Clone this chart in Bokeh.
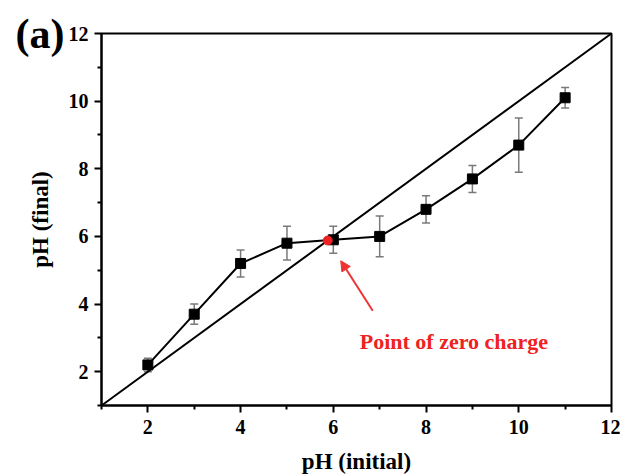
from bokeh.plotting import figure
from bokeh.models import (ColumnDataSource, Whisker, TeeHead, FixedTicker, Label,
                          Arrow, NormalHead, Range1d, LinearAxis)
from bokeh.embed import file_html
from bokeh.resources import INLINE

# Data
ph_initial = [2, 3, 4, 5, 6, 7, 8, 9, 10, 11]
ph_final = [2.2, 3.7, 5.2, 5.8, 5.9, 6.0, 6.8, 7.7, 8.7, 10.1]
ph_err = [0.2, 0.3, 0.4, 0.5, 0.4, 0.6, 0.4, 0.4, 0.8, 0.3]
diag_x = [1, 12]
diag_y = [1, 12]
pzc_x = [5.88]
pzc_y = [5.88]
major_ticks = [2, 4, 6, 8, 10, 12]
minor_ticks = [1, 3, 5, 7, 9, 11]
panel_tag = "(a)"

FONT = "Liberation Serif"

p = figure(width=620, height=476, output_backend="svg", toolbar_location=None,
           x_range=Range1d(1, 12), y_range=Range1d(1, 12),
           min_border_left=101, min_border_right=9, min_border_top=33, min_border_bottom=69)
p.grid.visible = False
p.outline_line_color = "black"
p.outline_line_width = 2

src = ColumnDataSource(dict(
    x=ph_initial, y=ph_final,
    upper=[v + e for v, e in zip(ph_final, ph_err)],
    lower=[v - e for v, e in zip(ph_final, ph_err)],
))

p.line(diag_x, diag_y, line_color="black", line_width=2)
w = Whisker(source=src, base="x", upper="upper", lower="lower",
            line_color="#7a7a7a", line_width=1.5,
            upper_head=TeeHead(size=8, line_color="#7a7a7a", line_width=1.5),
            lower_head=TeeHead(size=8, line_color="#7a7a7a", line_width=1.5))
p.add_layout(w)
p.line("x", "y", source=src, line_color="black", line_width=2)
p.scatter("x", "y", source=src, marker="square", size=10, fill_color="black", line_color="black")
p.scatter(pzc_x, pzc_y, marker="circle", size=9, fill_color="#ee2222", line_color="#ee2222")

p.add_layout(Arrow(end=NormalHead(size=10, fill_color="#ee3333", line_color="#ee3333"),
                   x_start=6.85, y_start=3.8, x_end=6.16, y_end=5.28,
                   line_color="#ee3333", line_width=2))
p.add_layout(Label(x=6.57, y=2.9, text="Point of zero charge", text_color="#ee2222",
                   text_font=FONT, text_font_style="bold", text_font_size="22px",
                   text_baseline="middle"))

for ax in (p.xaxis[0], p.yaxis[0]):
    ax.ticker = FixedTicker(ticks=major_ticks, minor_ticks=minor_ticks)
    ax.axis_line_width = 2
    ax.major_tick_line_width = 2
    ax.minor_tick_line_width = 2
    ax.major_tick_out = 7
    ax.major_tick_in = 0
    ax.minor_tick_out = 4
    ax.minor_tick_in = 0
    ax.major_label_text_font = FONT
    ax.major_label_text_font_style = "bold"
    ax.major_label_text_font_size = "20px"
    ax.major_label_text_color = "black"
    ax.axis_label_text_font = FONT
    ax.axis_label_text_font_style = "bold"
    ax.axis_label_text_font_size = "23px"
    ax.axis_label_text_color = "black"

p.xaxis.axis_label = "pH (initial)"
p.yaxis.axis_label = "pH (final)"
p.xaxis.axis_label_standoff = 12
p.xaxis.major_label_standoff = 7
p.yaxis.major_label_standoff = 6
p.yaxis.axis_label_standoff = 13

# outer left axis used only to carry the panel tag next to the top of the y axis
tag_axis = LinearAxis(ticker=FixedTicker(ticks=[12], minor_ticks=[]),
                      major_label_overrides={12: panel_tag},
                      axis_line_color=None, major_tick_line_color=None,
                      minor_tick_line_color=None, major_tick_out=0, major_tick_in=0,
                      major_label_standoff=-40,
                      major_label_text_font=FONT, major_label_text_font_style="bold",
                      major_label_text_font_size="42px", major_label_text_color="black")
p.add_layout(tag_axis, "left")

open("out.html", "w").write(file_html(p, INLINE))
